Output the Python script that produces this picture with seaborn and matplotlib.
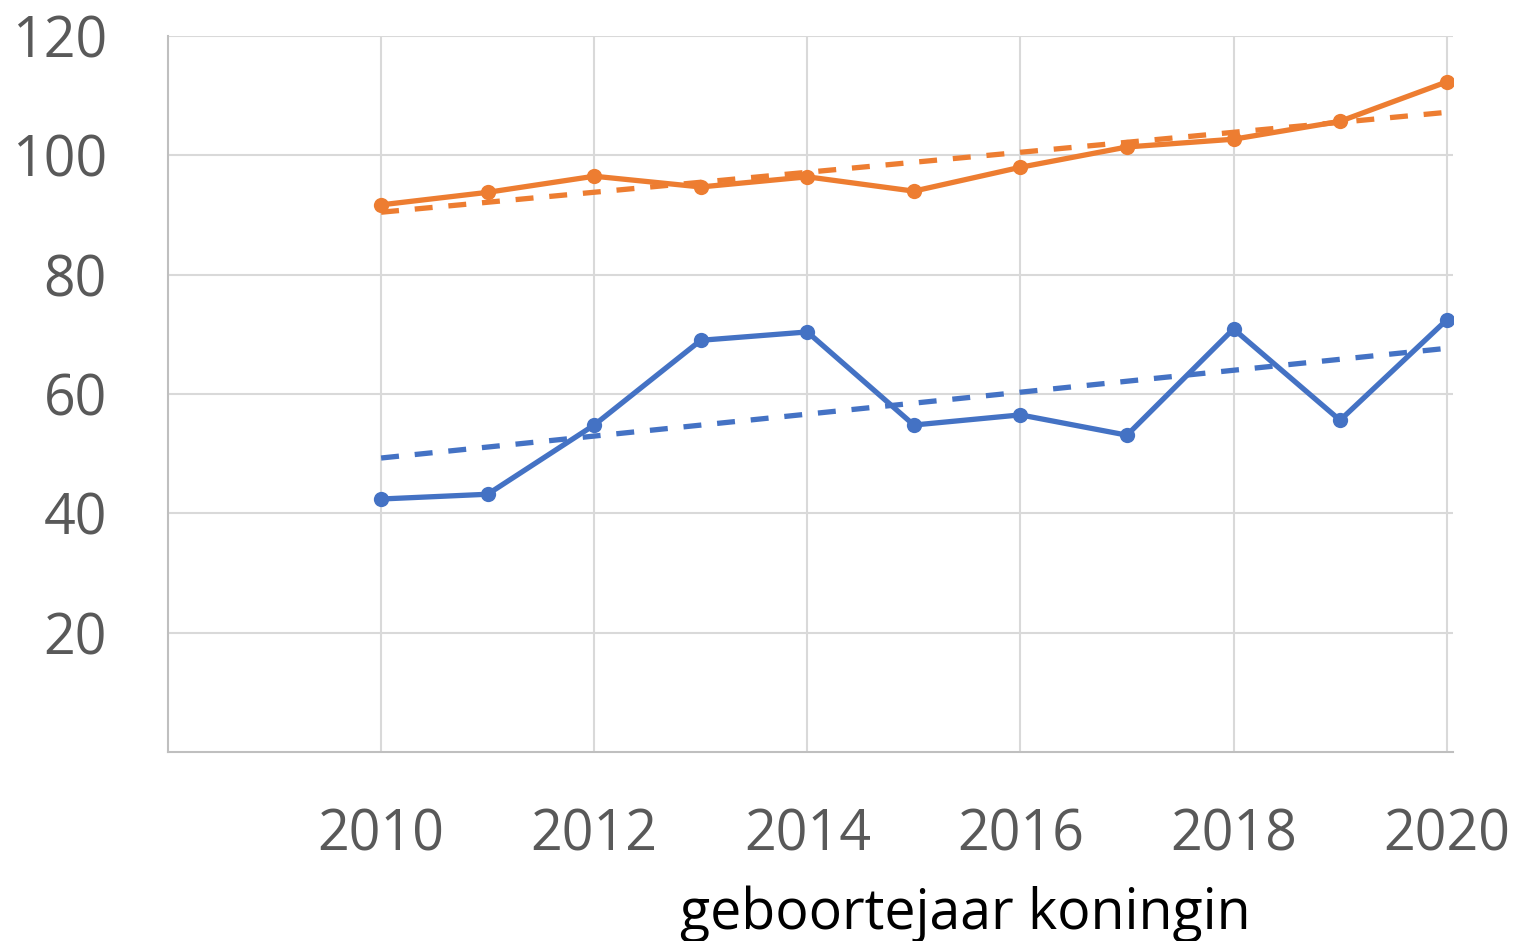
import numpy as np
import pandas as pd
import seaborn as sns
import matplotlib.pyplot as plt

years = [2010, 2011, 2012, 2013, 2014, 2015, 2016, 2017, 2018, 2019, 2020]
orange_vals = [91.7, 93.8, 96.5, 94.7, 96.4, 94.0, 98.0, 101.4, 102.7, 105.7, 112.3]
blue_vals = [42.4, 43.2, 54.8, 69.0, 70.4, 54.8, 56.5, 53.1, 70.9, 55.6, 72.4]
x_ticks = [2010, 2012, 2014, 2016, 2018, 2020]
y_ticks = [20, 40, 60, 80, 100, 120]

orange = "#ED7D31"
blue = "#4472C4"

sns.set_style("white")
plt.rcParams["font.family"] = ["Open Sans", "DejaVu Sans"]

fig = plt.figure(figsize=(15.19, 9.41), dpi=100)
ax = fig.add_axes([168 / 1519, 1 - 752 / 941, (1453 - 168) / 1519, (752 - 36) / 941])

df = pd.DataFrame({"jaar": years, "oranje": orange_vals, "blauw": blue_vals})

# linear trendlines (like Excel)
for col, color in [("blauw", blue), ("oranje", orange)]:
    slope, icpt = np.polyfit(df["jaar"], df[col], 1)
    trend = pd.DataFrame({"jaar": years, "trend": [slope * y + icpt for y in years]})
    sns.lineplot(data=trend, x="jaar", y="trend", ax=ax, color=color,
                 linewidth=3.8, linestyle=(0, (3.4, 3.0)), zorder=3)
    sns.lineplot(data=df, x="jaar", y=col, ax=ax, color=color, linewidth=3.8,
                 marker="o", markersize=11, markeredgewidth=0, zorder=4)

ax.set_xlim(2008, 2020.06)
ax.set_ylim(0, 120)
ax.set_xticks(x_ticks)
ax.set_yticks(y_ticks)
ax.grid(True, color="#d9d9d9", linewidth=1.5)
ax.set_axisbelow(True)

for side in ["top", "right"]:
    ax.spines[side].set_visible(False)
for side in ["left", "bottom"]:
    ax.spines[side].set_color("#bfbfbf")
    ax.spines[side].set_linewidth(1.5)

ax.tick_params(axis="both", length=0, labelsize=40, labelcolor="#595959")
ax.tick_params(axis="x", pad=40)
ax.tick_params(axis="y", pad=44)

ax.set_ylabel("")
ax.set_xlabel("geboortejaar koningin", fontsize=40, color="black")
ax.xaxis.set_label_coords((965 - 168) / (1453 - 168), -(914 - 752) / (752 - 36), transform=ax.transAxes)
ax.xaxis.label.set_va("center")

fig.savefig("out.png", dpi=100)
